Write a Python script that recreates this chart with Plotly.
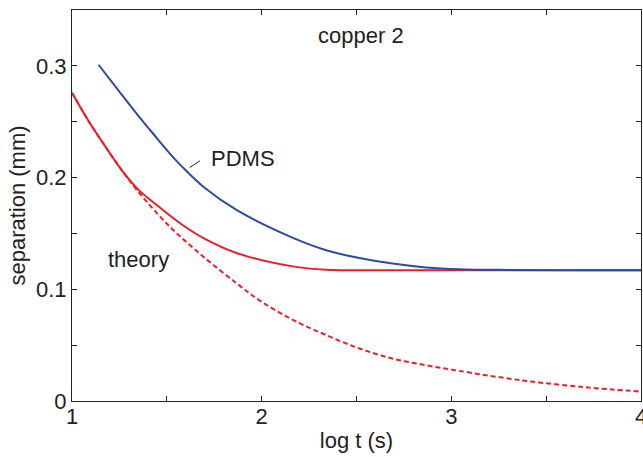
import plotly.graph_objects as go

# PDMS (blue)
pdms_x = [1.14, 1.263, 1.351, 1.439, 1.516, 1.579, 1.691, 1.867, 2.165, 2.34, 2.516, 2.69, 2.867, 3.04, 3.3, 3.6, 4.0]
pdms_y = [0.301, 0.274, 0.255, 0.237, 0.2215, 0.210, 0.192, 0.171, 0.146, 0.135, 0.128, 0.123, 0.1196, 0.118, 0.1173, 0.117, 0.117]

# copper measured (red solid)
cu_x = [1.0, 1.088, 1.175, 1.263, 1.351, 1.439, 1.516, 1.579, 1.691, 1.867, 2.165, 2.34, 2.5, 3.0, 3.5, 4.0]
cu_y = [0.276, 0.2505, 0.228, 0.2065, 0.189, 0.1765, 0.166, 0.158, 0.146, 0.1325, 0.1205, 0.1175, 0.117, 0.117, 0.117, 0.117]

# theory (red dashed)
th_x = [1.0, 1.088, 1.175, 1.263, 1.351, 1.516, 1.691, 1.867, 1.989, 2.165, 2.34, 2.516, 2.69, 2.867, 3.04, 3.358, 3.709, 4.0]
th_y = [0.276, 0.2505, 0.228, 0.2065, 0.187, 0.156, 0.1294, 0.1055, 0.090, 0.0726, 0.059, 0.047, 0.038, 0.032, 0.027, 0.0188, 0.0123, 0.0084]

x_ticks = [1, 2, 3, 4]
y_ticks = [0, 0.1, 0.2, 0.3]
y_tick_text = ["0", "0.1", "0.2", "0.3"]

BLUE = "rgb(45,75,165)"
RED = "rgb(232,32,40)"
INK = "#222"
FONT = "Liberation Sans, Arial, Helvetica, sans-serif"
FS = 22

fig = go.Figure()
fig.add_trace(go.Scatter(x=th_x, y=th_y, mode="lines",
                         line=dict(color=RED, width=2, dash="5px,3px", shape="spline", smoothing=1)))
fig.add_trace(go.Scatter(x=cu_x, y=cu_y, mode="lines",
                         line=dict(color=RED, width=2, shape="spline", smoothing=1)))
fig.add_trace(go.Scatter(x=pdms_x, y=pdms_y, mode="lines",
                         line=dict(color=BLUE, width=2, shape="spline", smoothing=1)))

axis_common = dict(showline=True, linecolor=INK, linewidth=1, mirror="ticks", automargin=False,
                   ticks="inside", ticklen=5, tickcolor=INK, showgrid=False, zeroline=False,
                   ticklabeloverflow="allow",
                   tickfont=dict(family=FONT, size=FS, color=INK))

fig.update_xaxes(range=[1, 4], tickvals=x_ticks, ticktext=[str(v) for v in x_ticks],
                 ticklabelstandoff=-4,
                 minor=dict(dtick=0.5, tick0=1, ticks="inside", ticklen=5, tickcolor=INK, showgrid=False),
                 title=dict(text="log t (s)", font=dict(family=FONT, size=FS, color=INK), standoff=4),
                 **axis_common)
fig.update_yaxes(range=[0, 0.35], tickvals=y_ticks, ticktext=y_tick_text,
                 minor=dict(dtick=0.05, tick0=0, ticks="inside", ticklen=5, tickcolor=INK, showgrid=False),
                 title=dict(text="separation (mm)", font=dict(family=FONT, size=FS, color=INK), standoff=4),
                 **axis_common)

fig.add_annotation(x=2.526, y=0.327, text="copper 2", showarrow=False,
                   font=dict(family=FONT, size=FS, color=INK))
fig.add_annotation(x=1.353, y=0.1265, text="theory", showarrow=False,
                   font=dict(family=FONT, size=FS, color=INK))
fig.add_annotation(x=1.72, y=0.217, text="PDMS", showarrow=False, xanchor="left",
                   font=dict(family=FONT, size=FS, color=INK))
fig.add_shape(type="line", x0=1.621, y0=0.209, x1=1.674, y1=0.215,
              line=dict(color=INK, width=1))

fig.update_layout(width=643, height=457, showlegend=False,
                  margin=dict(l=72, r=2, t=10, b=56),
                  plot_bgcolor="white", paper_bgcolor="white")

# remove the default page margin so the figure sits at the window's top-left corner
fig.write_html("out.html", config={"displayModeBar": False},
               post_script="document.body.style.margin='0';document.body.style.overflow='hidden';")
